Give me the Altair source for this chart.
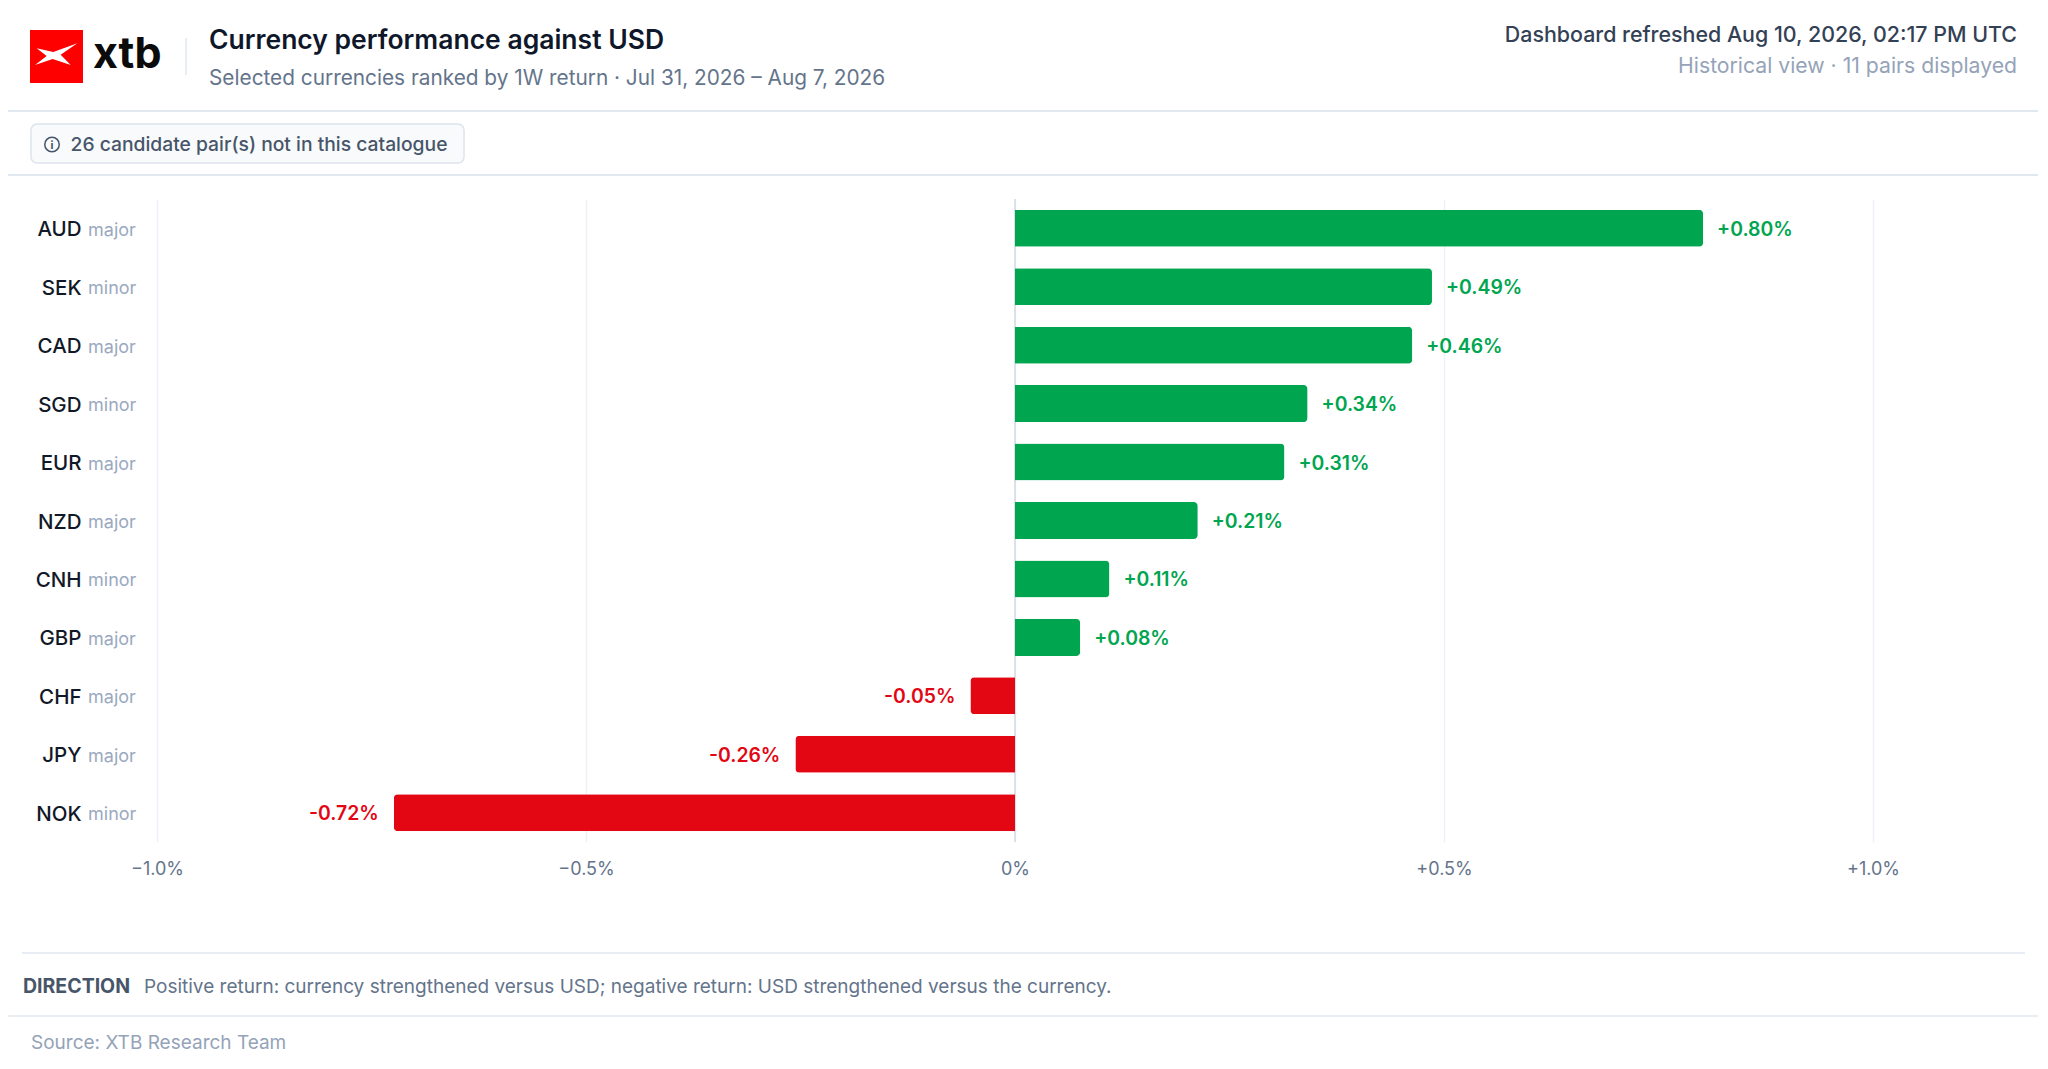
import altair as alt
import pandas as pd

# ---------------- data ----------------
currencies = ["AUD", "SEK", "CAD", "SGD", "EUR", "NZD", "CNH", "GBP", "CHF", "JPY", "NOK"]
tiers = ["major", "minor", "major", "minor", "major", "major", "minor", "major", "major", "major", "minor"]
returns = [0.802, 0.486, 0.463, 0.341, 0.314, 0.213, 0.110, 0.076, -0.052, -0.256, -0.724]
x_ticks = [-1.0, -0.5, 0.0, 0.5, 1.0]

title_text = "Currency performance against USD"
subtitle_text = "Selected currencies ranked by 1W return · Jul 31, 2026 – Aug 7, 2026"
refreshed_text = "Dashboard refreshed Aug 10, 2026, 02:17 PM UTC"
view_text = "Historical view · 11 pairs displayed"
badge_text = "26 candidate pair(s) not in this catalogue"
direction_head = "DIRECTION"
direction_text = "Positive return: currency strengthened versus USD; negative return: USD strengthened versus the currency."
source_text = "Source: XTB Research Team"
logo_text = "xtb"

GREEN = "#00a550"
RED = "#e30613"
FONT = "Inter"

df = pd.DataFrame({"currency": currencies, "tier": tiers, "ret": returns})
df["label"] = [f"{v:+.2f}%" for v in returns]

W, H = 1716, 643

y_enc = alt.Y("currency:N", sort=currencies, axis=None,
              scale=alt.Scale(paddingInner=0.1, paddingOuter=0.05))
x_enc = alt.X(
    "ret:Q",
    scale=alt.Scale(domain=[-1.0, 1.0], nice=False),
    axis=alt.Axis(
        values=x_ticks, title=None, domain=False, ticks=False,
        grid=True, gridColor="#eef1f5", gridWidth=1.5,
        labelFont=FONT, labelFontSize=18, labelColor="#64748b", labelPadding=18,
        labelFlush=False,
        labelExpr="datum.value > 0 ? '+' + format(datum.value, '.1f') + '%' : (datum.value == 0 ? '0%' : format(datum.value, '.1f') + '%')",
    ),
)

base = alt.Chart(df)

pos_bars = base.transform_filter("datum.ret >= 0").mark_bar(
    color=GREEN, size=37, cornerRadiusTopRight=4, cornerRadiusBottomRight=4
).encode(x=x_enc, y=y_enc)

neg_bars = base.transform_filter("datum.ret < 0").mark_bar(
    color=RED, size=37, cornerRadiusTopLeft=4, cornerRadiusBottomLeft=4
).encode(x=x_enc, y=y_enc)

zero_rule = alt.Chart(pd.DataFrame({"z": [0.0]})).mark_rule(
    color="#dde1e7", strokeWidth=2
).encode(x="z:Q")

pos_labels = base.transform_filter("datum.ret >= 0").mark_text(
    align="left", baseline="alphabetic", dx=14, dy=7.5, font=FONT,
    fontSize=19.4, fontWeight=600, color=GREEN
).encode(x="ret:Q", y=alt.Y("currency:N", sort=currencies), text="label:N")

neg_labels = base.transform_filter("datum.ret < 0").mark_text(
    align="right", baseline="alphabetic", dx=-15, dy=7.5, font=FONT,
    fontSize=19.4, fontWeight=600, color=RED
).encode(x="ret:Q", y=alt.Y("currency:N", sort=currencies), text="label:N")

code_labels = base.mark_text(
    align="right", baseline="alphabetic", dy=8, font=FONT,
    fontSize=20.5, fontWeight=500, color="#111827"
).encode(x=alt.value(-75.5), y=alt.Y("currency:N", sort=currencies), text="currency:N")

tier_labels = base.mark_text(
    align="left", baseline="alphabetic", dy=7.5, font=FONT,
    fontSize=18, color="#9aa9bf"
).encode(x=alt.value(-69), y=alt.Y("currency:N", sort=currencies), text="tier:N")


def txt(s, x, y, **kw):
    return alt.Chart(pd.DataFrame({"t": [s]})).mark_text(
        baseline="alphabetic", font=FONT, **kw
    ).encode(x=alt.value(x), y=alt.value(y), text="t:N")


def hline(y, x1, x2, color="#e2e8f0", w=1.5):
    return alt.Chart(pd.DataFrame({"a": [0]})).mark_rule(color=color, strokeWidth=w).encode(
        x=alt.value(x1), x2=alt.value(x2), y=alt.value(y))


# logo
logo_box = alt.Chart(pd.DataFrame({"a": [0]})).mark_rect(color="#ff0000").encode(
    x=alt.value(-127), x2=alt.value(-74), y=alt.value(-169), y2=alt.value(-116))
logo_path = ("M -0.906 -0.266 L -0.125 -0.094 L 1.0 -0.5 L 0.219 0.031 L 0.6875 0.516 "
             "L -0.156 0.234 L -0.984 0.516 L -0.4375 0.094 Z")
logo_mark = alt.Chart(pd.DataFrame({"a": [0]})).mark_point(
    shape=logo_path, filled=True, fill="white", size=1820, strokeWidth=0, opacity=1
).encode(x=alt.value(-101), y=alt.value(-145))
logo_word = txt(logo_text, -64, -131, align="left", fontSize=43, fontWeight=700, color="#0b0b0b")
sep = alt.Chart(pd.DataFrame({"a": [0]})).mark_rule(color="#e2e8f0", strokeWidth=1.5).encode(
    x=alt.value(29), y=alt.value(-161), y2=alt.value(-124))

title = txt(title_text, 52, -150.5, align="left", fontSize=26.5, fontWeight=600, color="#0f172a")
subtitle = txt(subtitle_text, 52, -114, align="left", fontSize=20.8, color="#64748b")
refreshed = txt(refreshed_text, 1860, -156.7, align="right", fontSize=21.4, fontWeight=500, color="#334155")
view = txt(view_text, 1860, -125.7, align="right", fontSize=21.2, color="#94a3b8")

line1 = hline(-88, -149, 1885, w=2)
badge = alt.Chart(pd.DataFrame({"a": [0]})).mark_rect(
    fill="#f8fafc", stroke="#dde4ee", strokeWidth=1.5, cornerRadius=6
).encode(x=alt.value(-126), x2=alt.value(307), y=alt.value(-75), y2=alt.value(-36))
info_circle = alt.Chart(pd.DataFrame({"a": [0]})).mark_point(
    shape="circle", size=210, filled=False, stroke="#475569", strokeWidth=1.5, opacity=1
).encode(x=alt.value(-105), y=alt.value(-54.5))
info_i = txt("i", -105, -50.5, align="center", fontSize=11, fontWeight=700, color="#475569")
badge_t = txt(badge_text, -86.5, -48.3, align="left", fontSize=19.3, fontWeight=500, color="#475569")
line2 = hline(-24, -149, 1885, w=2)

line3 = hline(754, -135, 1868, w=1.5)
dir_head = txt(direction_head, -134, 793.7, align="left", fontSize=19.5, fontWeight=700, color="#475569")
dir_text = txt(direction_text, -13, 793.7, align="left", fontSize=19, color="#64748b")
line4 = hline(817, -149, 1885, w=1.5)
source = txt(source_text, -126, 850, align="left", fontSize=19, color="#94a3b8")

chart = alt.layer(
    zero_rule, pos_bars, neg_bars, pos_labels, neg_labels, code_labels, tier_labels,
    logo_box, logo_mark, logo_word, sep, title, subtitle, refreshed, view,
    line1, badge, info_circle, info_i, badge_t, line2,
    line3, dir_head, dir_text, line4, source,
).properties(
    width=W, height=H,
    autosize=alt.AutoSizeParams(type="none"),
    padding={"left": 149, "top": 191, "right": 165, "bottom": 211},
    background="white",
).configure(font=FONT).configure_view(stroke=None)

chart.save("out.html", embed_options={"renderer": "svg", "actions": False})
